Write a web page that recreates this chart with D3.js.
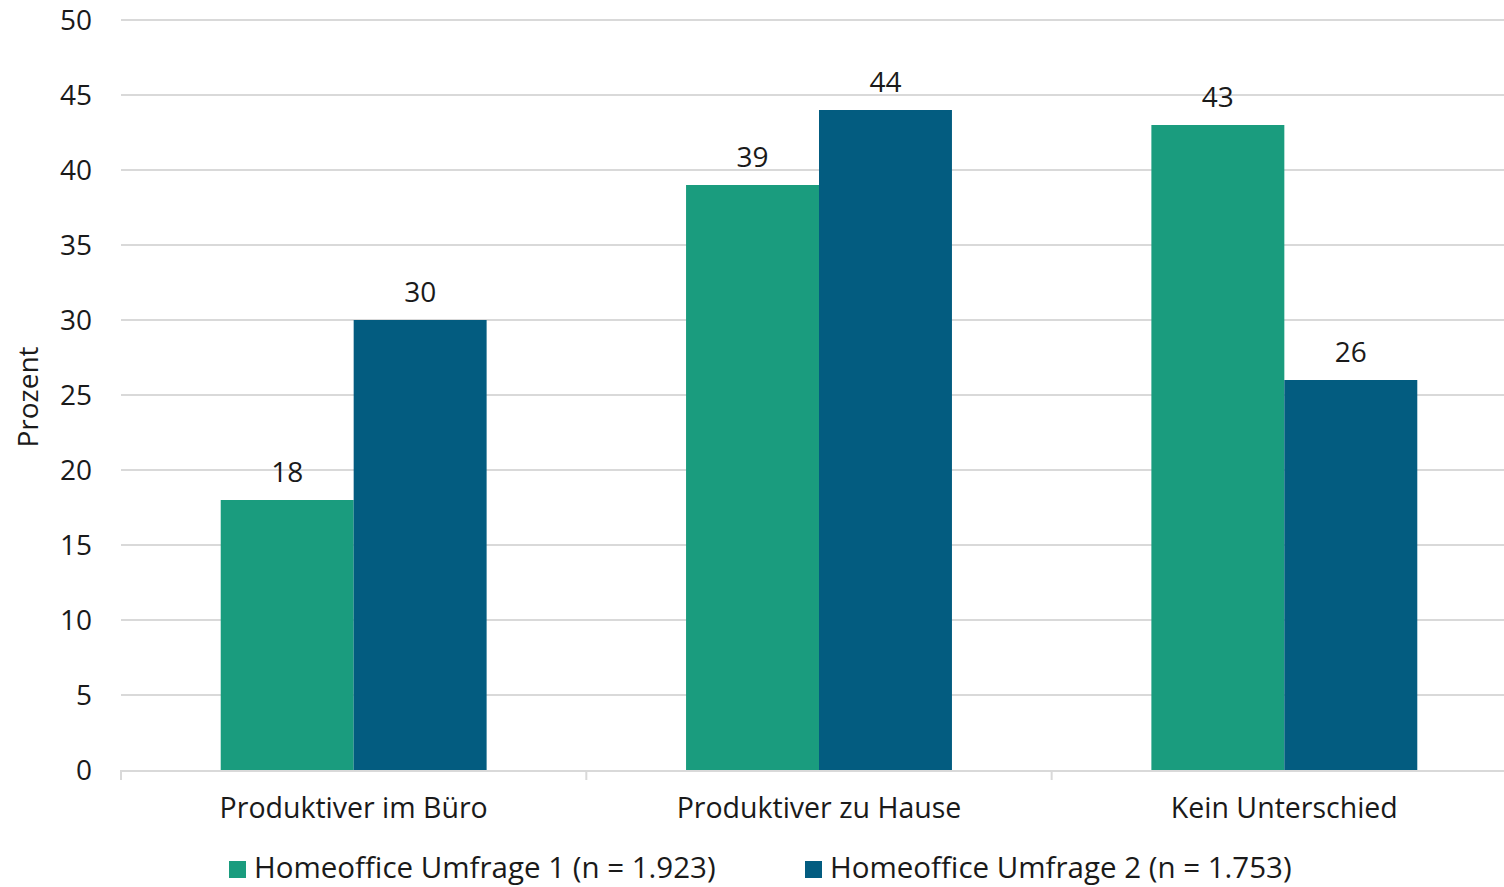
<!DOCTYPE html>
<html lang="de">
<head>
<meta charset="UTF-8">
<title>Produktivität Homeoffice</title>
<script src="https://cdn.jsdelivr.net/npm/d3@7"></script>
<style>
  body { margin: 0; background: #fff; overflow: hidden; }
  svg text { font-family: "Open Sans", "Noto Sans", sans-serif; fill: #1a1a1a; }
</style>
</head>
<body>
<div id="chart"></div>
<script>
  // data
  const categories = ["Produktiver im Büro", "Produktiver zu Hause", "Kein Unterschied"];
  const seriesNames = ["Homeoffice Umfrage 1 (n = 1.923)", "Homeoffice Umfrage 2 (n = 1.753)"];
  const umfrage1 = [18, 39, 43];
  const umfrage2 = [30, 44, 26];
  const yTicks = [0, 5, 10, 15, 20, 25, 30, 35, 40, 45, 50];
  const colors = ["#1a9c7e", "#035c80"];

  const width = 1504, height = 887;
  const margin = {top: 20, bottom: 117, left: 121};
  const plotRight = 1517; // plot runs a little past the picture's right edge

  const svg = d3.select("#chart").append("svg")
      .attr("width", width)
      .attr("height", height);

  const x = d3.scaleBand()
      .domain(categories)
      .range([margin.left, plotRight]);

  const x1 = d3.scaleBand()
      .domain([0, 1])
      .range([0, x.bandwidth()])
      .paddingOuter(0.75)
      .paddingInner(0);

  const y = d3.scaleLinear()
      .domain([0, 50])
      .range([height - margin.bottom, margin.top]);

  // gridlines
  svg.append("g")
      .selectAll("line")
      .data(yTicks.filter(d => d > 0))
      .join("line")
      .attr("x1", margin.left)
      .attr("x2", width)
      .attr("y1", d => y(d))
      .attr("y2", d => y(d))
      .attr("stroke", "#d9d9d9")
      .attr("stroke-width", 2);

  // y labels
  svg.append("g")
      .selectAll("text")
      .data(yTicks)
      .join("text")
      .attr("x", 92)
      .attr("y", d => y(d))
      .attr("dy", "0.36em")
      .attr("text-anchor", "end")
      .attr("font-size", 28)
      .text(d => d);

  svg.append("text")
      .attr("transform", "translate(38,397) rotate(-90)")
      .attr("text-anchor", "middle")
      .attr("font-size", 28)
      .text("Prozent");

  // bars
  const series = [umfrage1, umfrage2];
  const groups = svg.append("g")
      .selectAll("g")
      .data(categories)
      .join("g")
      .attr("transform", d => `translate(${x(d)},0)`);

  groups.selectAll("rect")
      .data((d, i) => series.map((s, k) => ({k, v: s[i]})))
      .join("rect")
      .attr("x", d => x1(d.k))
      .attr("width", x1.bandwidth())
      .attr("y", d => y(d.v))
      .attr("height", d => y(0) - y(d.v))
      .attr("fill", d => colors[d.k]);

  groups.selectAll("text.val")
      .data((d, i) => series.map((s, k) => ({k, v: s[i]})))
      .join("text")
      .attr("class", "val")
      .attr("x", d => x1(d.k) + x1.bandwidth() / 2)
      .attr("y", d => y(d.v) - 18)
      .attr("text-anchor", "middle")
      .attr("font-size", 28)
      .text(d => d.v);

  // x axis
  const base = y(0);
  svg.append("line")
      .attr("x1", margin.left).attr("x2", width)
      .attr("y1", base + 1).attr("y2", base + 1)
      .attr("stroke", "#d9d9d9").attr("stroke-width", 2);

  svg.append("g")
      .selectAll("line")
      .data(categories)
      .join("line")
      .attr("x1", d => x(d)).attr("x2", d => x(d))
      .attr("y1", base).attr("y2", base + 10)
      .attr("stroke", "#d9d9d9").attr("stroke-width", 2);

  svg.append("g")
      .selectAll("text")
      .data(categories)
      .join("text")
      .attr("x", d => x(d) + x.bandwidth() / 2)
      .attr("y", 818)
      .attr("text-anchor", "middle")
      .attr("font-size", 28.5)
      .text(d => d);

  // legend
  const legendX = [229, 805];
  const legend = svg.append("g")
      .selectAll("g")
      .data(seriesNames)
      .join("g")
      .attr("transform", (d, i) => `translate(${legendX[i]},861)`);

  legend.append("rect")
      .attr("width", 17).attr("height", 17)
      .attr("fill", (d, i) => colors[i]);

  legend.append("text")
      .attr("x", 25)
      .attr("y", 17)
      .attr("font-size", 29.5)
      .text(d => d);
</script>
</body>
</html>
